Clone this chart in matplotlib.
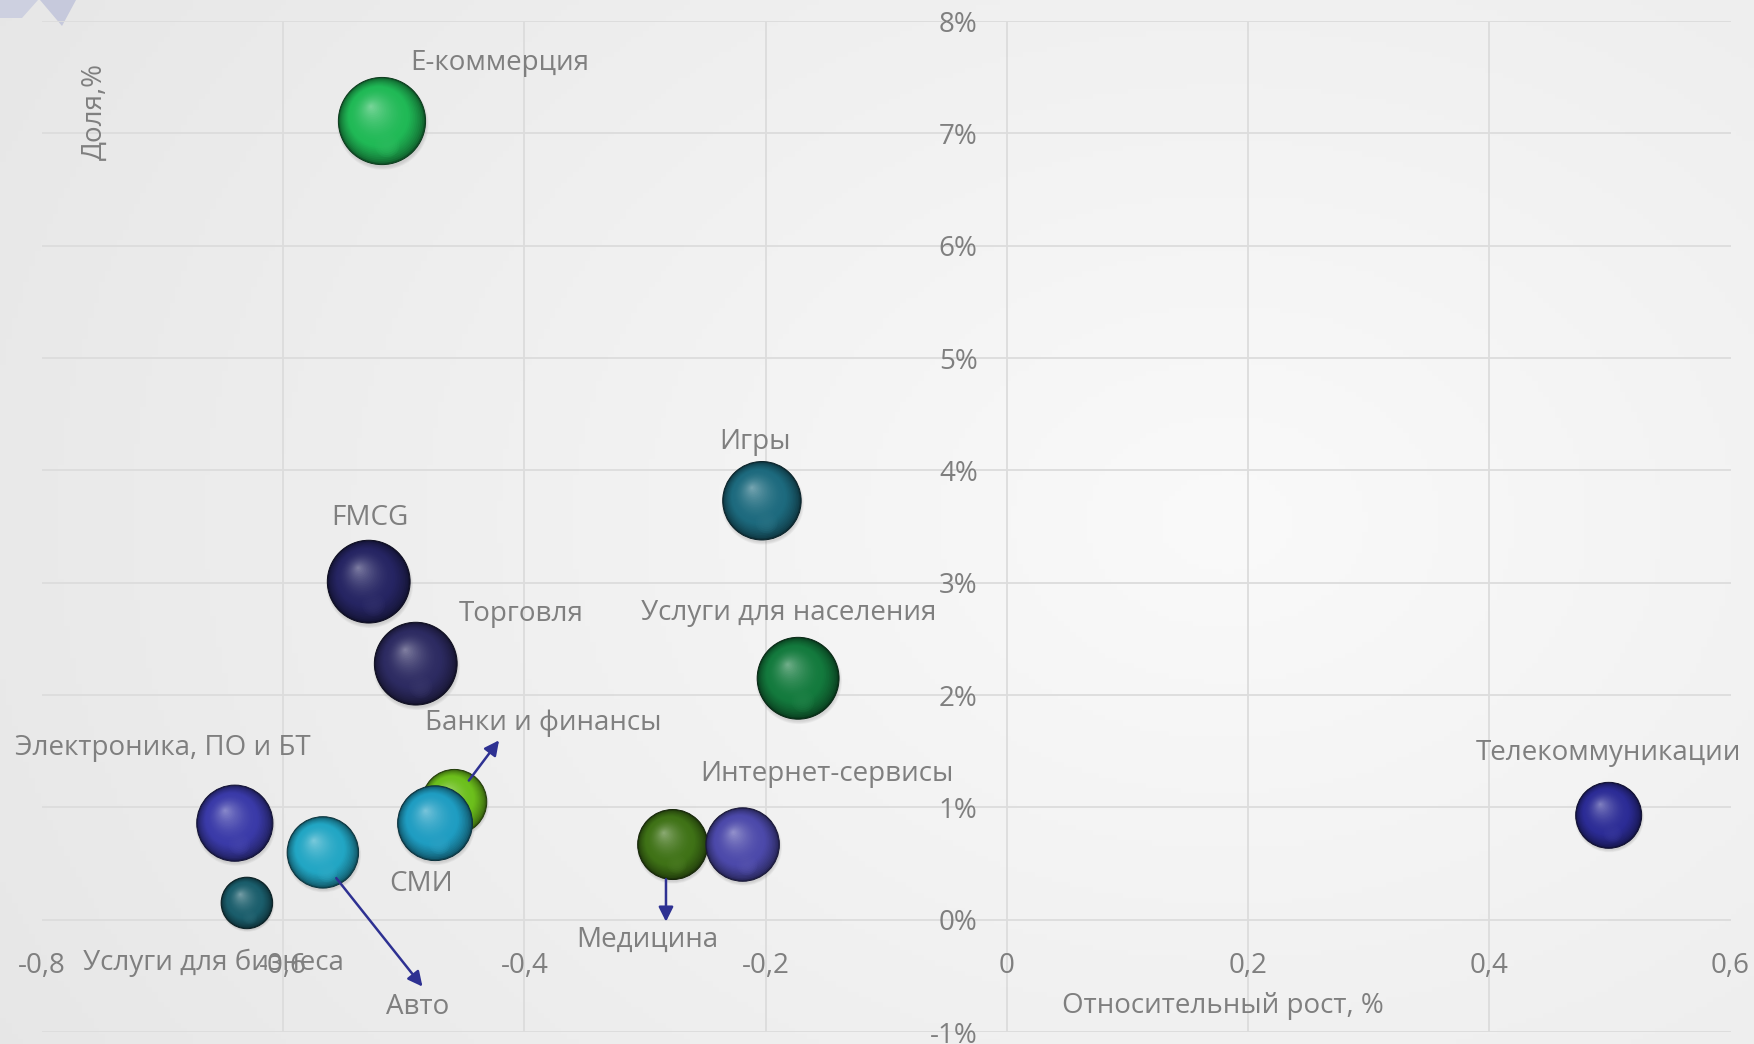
import matplotlib
matplotlib.use('Agg')
import matplotlib.pyplot as plt
import matplotlib.transforms as mtransforms
import matplotlib.colors as mcolors
from matplotlib.patches import Circle, FancyArrowPatch, Polygon
import numpy as np

plt.rcParams['font.family'] = ['Open Sans', 'DejaVu Sans']

# Data
segments = ['Е-коммерция', 'Игры', 'FMCG', 'Торговля', 'Услуги для населения',
            'Банки и финансы', 'СМИ', 'Электроника, ПО и БТ', 'Авто',
            'Услуги для бизнеса', 'Медицина', 'Интернет-сервисы', 'Телекоммуникации']
growth = [-0.518, -0.203, -0.529, -0.490, -0.173, -0.458, -0.474, -0.640, -0.567,
          -0.630, -0.277, -0.219, 0.499]
share = [7.11, 3.73, 3.01, 2.28, 2.15, 1.05, 0.86, 0.86, 0.60, 0.15, 0.67, 0.67, 0.93]
bubble_size = [15.2, 12.3, 13.7, 13.7, 13.4, 8.4, 11.2, 11.6, 10.2, 5.3, 9.8, 10.8, 8.7]
colors = ['#20b956', '#1d6a7e', '#262563', '#2d2b62', '#137a3d', '#6cbf1c', '#1f9dc2',
          '#3a3aa8', '#22a6c4', '#1b5e6c', '#3f7216', '#4c49aa', '#2c2c96']

x_ticks = [-0.8, -0.6, -0.4, -0.2, 0, 0.2, 0.4, 0.6]
x_labels = ['-0,8', '-0,6', '-0,4', '-0,2', '0', '0,2', '0,4', '0,6']
y_ticks = list(range(-1, 9))
y_labels = [f'{v}%' for v in y_ticks]

# label offsets in points, arrows in inches (layout only)
label_offsets = {
    'Е-коммерция': (85, 42), 'Игры': (-5, 42), 'FMCG': (1, 46), 'Торговля': (76, 36),
    'Услуги для населения': (-7, 47), 'Банки и финансы': (64, 57), 'СМИ': (-10, -44),
    'Электроника, ПО и БТ': (-52, 54), 'Авто': (68, -111), 'Услуги для бизнеса': (-24, -43),
    'Медицина': (-18, -69), 'Интернет-сервисы': (61, 51), 'Телекоммуникации': (0, 45),
}
arrows = {
    'Банки и финансы': ((0.145, 0.213), (0.447, 0.615)),
    'Авто': ((0.134, -0.257), (0.996, -1.342)),
    'Медицина': ((-0.067, -0.347), (-0.067, -0.772)),
}

text_gray = '#7f7f7f'
W, H = 1754, 1044
fig = plt.figure(figsize=(W / 100, H / 100), dpi=100)

# background gradient
bg = fig.add_axes([0, 0, 1, 1])
yy, xx = np.mgrid[0:1:200j, 0:1:300j]
d = np.sqrt(((xx - 0.70) / 0.75) ** 2 + ((yy - 0.50) / 0.95) ** 2)
v = np.clip(0.98 - 0.07 * d, 0.9, 0.982)
bg.imshow(np.dstack([v, v, v]), extent=[0, 1, 0, 1], aspect='auto', origin='lower')
bg.add_patch(Polygon([(0, 1), (38 / W, 1), (22 / W, 1 - 18 / H), (0, 1 - 18 / H)],
                     closed=True, color='#cdd0e0', lw=0))
bg.add_patch(Polygon([(40 / W, 1), (76 / W, 1), (62 / W, 1 - 26 / H)],
                     closed=True, color='#c6c9dc', lw=0))
bg.set_xlim(0, 1)
bg.set_ylim(0, 1)
bg.axis('off')

ax = fig.add_axes([0.02385, 0.01136, 0.96276, 0.96849])
ax.set_facecolor('none')

grid_c = '#dcdcdc'
for yv in y_ticks:
    ax.axhline(yv, color=grid_c, lw=1.3, zorder=1)
for xv in x_ticks[1:-1]:
    ax.axvline(xv, color=grid_c, lw=1.3, zorder=1)
for s in ax.spines.values():
    s.set_visible(False)

ax.set_xticks(x_ticks)
ax.set_xticklabels(x_labels)
ax.set_yticks(y_ticks)
ax.set_yticklabels(y_labels)
ax.tick_params(axis='both', length=0, labelsize=20, labelcolor=text_gray)
ax.tick_params(axis='y', pad=21)
ax.tick_params(axis='x', pad=23)
ax.spines['left'].set_position(('data', 0))
ax.spines['bottom'].set_position(('data', 0))


def shade(rgb, t):
    rgb = np.array(rgb)
    dark = rgb * 0.45
    light = rgb + (1 - rgb) * 0.42
    if t < 0.3:
        return dark + (rgb - dark) * (t / 0.3) ** 0.6
    return rgb + (light - rgb) * ((t - 0.3) / 0.7) ** 1.8


r_max = 0.436  # inches for the largest bubble
s_max = max(bubble_size)
n_layers = 32
for name, x, y, s, c in zip(segments, growth, share, bubble_size, colors):
    R = r_max * np.sqrt(s / s_max)
    trans = fig.dpi_scale_trans + mtransforms.ScaledTranslation(x, y, ax.transData)
    base = mcolors.to_rgb(c)
    # soft shadow
    for k in range(4):
        ax.add_patch(Circle((0.02 * R, -0.07 * R), R * (1.05 - 0.02 * k), transform=trans,
                            color='#7a7a7a', alpha=0.07, lw=0, zorder=2))
    hx, hy = -0.26 * R, 0.34 * R
    for i in range(n_layers):
        f = 1 - i / n_layers
        t = 1 - f
        ax.add_patch(Circle((hx * t, hy * t), R * f, transform=trans,
                            color=shade(base, t), lw=0, zorder=3))
    # faint reflection near the bottom
    for k in range(5):
        ax.add_patch(Circle((0.12 * R, -0.55 * R), R * (0.28 - 0.05 * k), transform=trans,
                            color=shade(base, 0.55), alpha=0.18, lw=0, zorder=3))
    ax.add_patch(Circle((0, 0), R, transform=trans, fill=False,
                        ec=shade(base, 0) * 0.7, lw=0.7, zorder=3))
    ax.annotate(name, xy=(x, y), xytext=label_offsets[name], textcoords='offset points',
                ha='center', va='center', fontsize=20, color=text_gray, zorder=5,
                annotation_clip=False)
    if name in arrows:
        (ax0, ay0), (ax1, ay1) = arrows[name]
        ax.add_patch(FancyArrowPatch((ax0, ay0), (ax1, ay1), transform=trans,
                                     arrowstyle='-|>', mutation_scale=22, lw=1.8,
                                     color='#2e3192', zorder=4, shrinkA=0, shrinkB=0))

ax.set_xlim(-0.8, 0.6)
ax.set_ylim(-1, 8)

fig.text(1223 / W, 1 - 1006 / H, 'Относительный рост, %', ha='center', va='center',
         fontsize=20, color=text_gray)
fig.text(95 / W, 1 - 112 / H, 'Доля,%', ha='center', va='center', rotation=90,
         fontsize=20, color=text_gray)

fig.savefig('out.png', dpi=100)
